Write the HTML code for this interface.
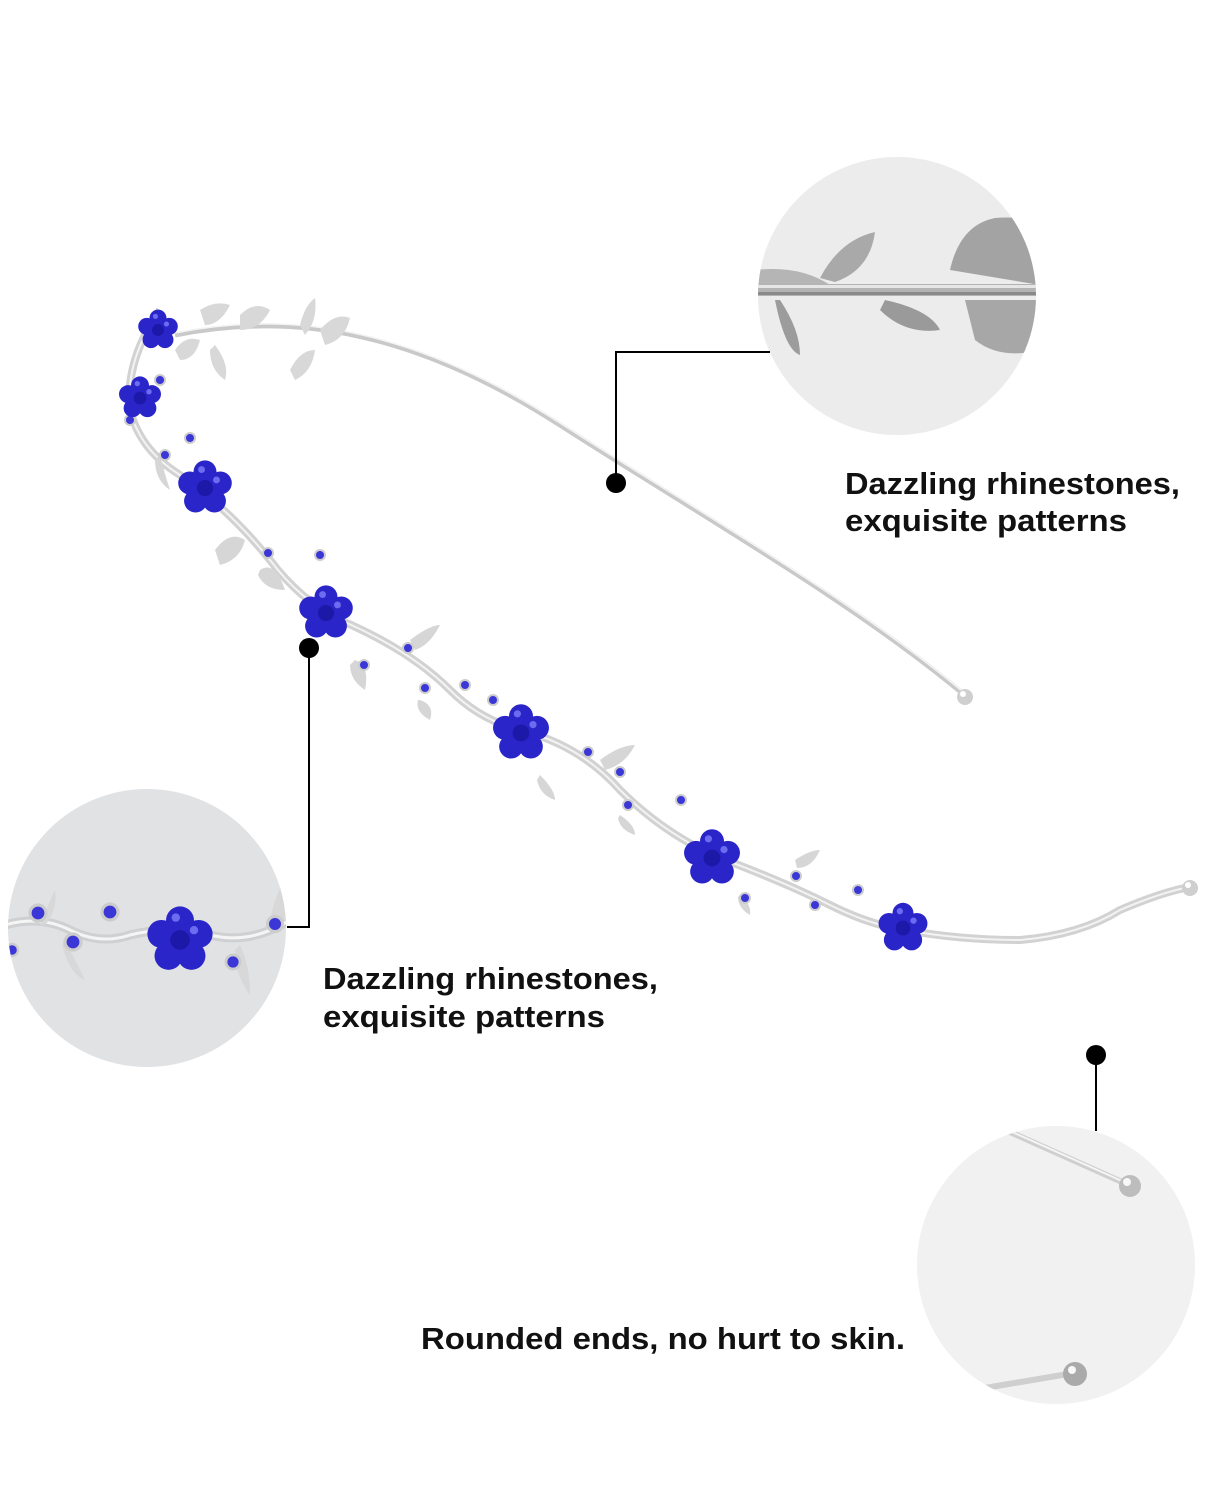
<!DOCTYPE html>
<html><head><meta charset="utf-8"><style>
html,body{margin:0;padding:0;background:#fff;}
svg{display:block}
text{font-family:"Liberation Sans",sans-serif;font-weight:bold;font-size:31px;fill:#111}
</style></head><body>
<svg width="1219" height="1500" viewBox="0 0 1219 1500" xmlns="http://www.w3.org/2000/svg">
<defs>
<g id="fl">
<circle cx="0" cy="-14" r="10" fill="#2a25c8"/>
<circle cx="13.3" cy="-4.3" r="10" fill="#2a25c8"/>
<circle cx="8.2" cy="11.3" r="10" fill="#2a25c8"/>
<circle cx="-8.2" cy="11.3" r="10" fill="#2a25c8"/>
<circle cx="-13.3" cy="-4.3" r="10" fill="#2a25c8"/>
<circle cx="0" cy="0" r="7" fill="#1c18a8"/>
<circle cx="-3" cy="-16" r="3" fill="#6c6cf0"/>
<circle cx="10" cy="-7" r="3" fill="#6c6cf0"/>
</g>
<g id="gem"><circle r="5" fill="#3b36d6" stroke="#ccc" stroke-width="2"/></g>
</defs>

<circle cx="897" cy="296" r="139" fill="#ececec"/>
<circle cx="147" cy="928" r="139" fill="#e1e2e4"/>
<circle cx="1056" cy="1265" r="139" fill="#f1f1f1"/>

<clipPath id="c1"><circle cx="897" cy="296" r="139"/></clipPath>
<g clip-path="url(#c1)">
<path d="M820,278 Q840,240 875,232 Q870,270 835,282Z" fill="#a9a9a9"/>
<path d="M950,270 Q960,225 995,218 Q1030,215 1040,230 L1040,285Z" fill="#a3a3a3"/>
<path d="M780,300 Q800,330 800,355 Q785,350 775,300Z" fill="#9c9c9c"/>
<path d="M885,300 Q930,310 940,330 Q905,335 880,310Z" fill="#9a9a9a"/>
<path d="M965,300 L1040,300 L1040,350 Q1000,360 975,340Z" fill="#a7a7a7"/>
<path d="M755,270 Q800,265 830,285 L755,290Z" fill="#b5b5b5"/>
<rect x="755" y="284" width="290" height="12" fill="#b3b3b3"/>
<rect x="755" y="285" width="290" height="3" fill="#e6e6e6"/>
<rect x="755" y="292" width="290" height="3" fill="#8a8a8a"/>
</g>

<clipPath id="c2"><circle cx="147" cy="928" r="139"/></clipPath>
<g clip-path="url(#c2)">
<path d="M5,925 Q40,915 70,930 Q100,945 130,935 Q170,925 210,935 Q250,945 290,920" stroke="#cfd0d2" stroke-width="9" fill="none"/>
<path d="M5,925 Q40,915 70,930 Q100,945 130,935 Q170,925 210,935 Q250,945 290,920" stroke="#f5f5f5" stroke-width="3" fill="none"/>
<path d="M40,925 Q50,900 55,890 Q58,910 45,925Z" fill="#d8d8d8"/>
<path d="M65,940 Q75,960 85,980 Q70,975 62,945Z" fill="#d8d8d8"/>
<path d="M240,945 Q250,965 250,995 Q235,975 235,950Z" fill="#d8d8d8"/>
<path d="M270,920 Q275,895 285,880 L288,920Z" fill="#d8d8d8"/>
<use href="#gem" transform="translate(38,913) scale(1.6)"/>
<use href="#gem" transform="translate(73,942) scale(1.6)"/>
<use href="#gem" transform="translate(110,912) scale(1.6)"/>
<use href="#gem" transform="translate(233,962) scale(1.4)"/>
<use href="#gem" transform="translate(275,924) scale(1.5)"/>
<use href="#gem" transform="translate(12,950) scale(1.2)"/>
<use href="#fl" transform="translate(180,940) scale(1.4)"/>
</g>

<clipPath id="c3"><circle cx="1056" cy="1265" r="139"/></clipPath>
<g clip-path="url(#c3)">
<path d="M1010,1132 L1122,1182" stroke="#cfcfcf" stroke-width="6" stroke-linecap="round"/>
<path d="M1010,1131 L1122,1181" stroke="#f4f4f4" stroke-width="2"/>
<circle cx="1130" cy="1186" r="11" fill="#bdbdbd"/><circle cx="1127" cy="1182" r="4" fill="#f8f8f8"/>
<path d="M985,1388 L1068,1374" stroke="#cfcfcf" stroke-width="6" stroke-linecap="round"/>
<circle cx="1075" cy="1374" r="12" fill="#aaa"/><circle cx="1072" cy="1370" r="4" fill="#f8f8f8"/>
</g>

<!-- back wire -->
<path d="M175,335 C300,310 420,335 560,425 C700,515 850,600 962,693" stroke="#c9c9c9" stroke-width="5" fill="none"/>
<path d="M175,333 C300,308 420,333 560,423 C700,513 850,598 962,691" stroke="#f4f4f4" stroke-width="1.5" fill="none"/>
<circle cx="965" cy="697" r="8" fill="#cfcfcf"/><circle cx="963" cy="694" r="3" fill="#fff"/>

<!-- top-left cluster -->
<g fill="#d8d8d8">
<path d="M200,310 Q215,300 230,305 Q220,325 205,325Z"/>
<path d="M240,315 Q255,300 270,310 Q260,330 240,330Z"/>
<path d="M300,325 Q305,305 315,298 Q318,320 305,335Z"/>
<path d="M320,330 Q335,312 350,318 Q345,340 325,345Z"/>
<path d="M290,370 Q300,350 315,350 Q312,372 295,380Z"/>
<path d="M215,345 Q230,365 225,380 Q210,370 210,350Z"/>
<path d="M175,350 Q185,335 200,340 Q195,360 180,360Z"/>
</g>

<!-- front band -->
<path d="M160,310 Q125,360 130,410 Q140,450 180,475 Q230,510 270,560 Q300,600 340,620 Q410,650 450,690 Q480,720 520,730 Q580,745 620,790 Q660,830 712,855 Q780,880 830,905 Q870,925 905,930 Q960,940 1020,940 Q1080,935 1120,910 Q1160,893 1185,888" stroke="#d2d2d2" stroke-width="8" fill="none"/>
<path d="M160,310 Q125,360 130,410 Q140,450 180,475 Q230,510 270,560 Q300,600 340,620 Q410,650 450,690 Q480,720 520,730 Q580,745 620,790 Q660,830 712,855 Q780,880 830,905 Q870,925 905,930 Q960,940 1020,940 Q1080,935 1120,910 Q1160,893 1185,888" stroke="#f3f3f3" stroke-width="2" fill="none"/>
<circle cx="1190" cy="888" r="8" fill="#cfcfcf"/><circle cx="1188" cy="885" r="3" fill="#fff"/>

<g fill="#d6d6d6">
<path d="M215,550 Q230,530 245,540 Q240,560 220,565Z"/>
<path d="M260,570 Q275,560 285,590 Q265,590 258,575Z"/>
<path d="M355,660 Q370,665 365,690 Q350,680 350,665Z"/>
<path d="M420,700 Q435,705 430,720 Q415,712 418,700Z"/>
<path d="M410,640 Q430,625 440,625 Q430,645 415,650Z"/>
<path d="M600,760 Q620,745 635,745 Q625,765 605,770Z"/>
<path d="M540,775 Q555,790 555,800 Q540,795 537,780Z"/>
<path d="M620,815 Q635,825 635,835 Q620,830 618,818Z"/>
<path d="M795,860 Q810,850 820,850 Q812,868 797,868Z"/>
<path d="M740,895 Q752,905 750,915 Q738,908 738,897Z"/>
<path d="M160,455 Q165,475 170,490 Q155,480 155,460Z"/>
</g>
<use href="#gem" transform="translate(165,455)"/>
<use href="#gem" transform="translate(190,438)"/>
<use href="#gem" transform="translate(268,553)"/>
<use href="#gem" transform="translate(320,555)"/>
<use href="#gem" transform="translate(364,665)"/>
<use href="#gem" transform="translate(408,648)"/>
<use href="#gem" transform="translate(425,688)"/>
<use href="#gem" transform="translate(465,685)"/>
<use href="#gem" transform="translate(493,700)"/>
<use href="#gem" transform="translate(588,752)"/>
<use href="#gem" transform="translate(620,772)"/>
<use href="#gem" transform="translate(628,805)"/>
<use href="#gem" transform="translate(681,800)"/>
<use href="#gem" transform="translate(745,898)"/>
<use href="#gem" transform="translate(796,876)"/>
<use href="#gem" transform="translate(815,905)"/>
<use href="#gem" transform="translate(858,890)"/>
<use href="#gem" transform="translate(160,380)"/>
<use href="#gem" transform="translate(130,420)"/>

<use href="#fl" transform="translate(158,330) scale(0.85)"/>
<use href="#fl" transform="translate(140,398) scale(0.9)"/>
<use href="#fl" transform="translate(205,488) scale(1.15)"/>
<use href="#fl" transform="translate(326,613) scale(1.15)"/>
<use href="#fl" transform="translate(521,733) scale(1.2)"/>
<use href="#fl" transform="translate(712,858) scale(1.2)"/>
<use href="#fl" transform="translate(903,928) scale(1.05)"/>

<g stroke="#000" stroke-width="2" fill="none">
<polyline points="616,483 616,352 770,352"/>
<polyline points="309,648 309,927 287,927"/>
<line x1="1096" y1="1055" x2="1096" y2="1131"/>
</g>
<circle cx="616" cy="483" r="10" fill="#000"/>
<circle cx="309" cy="648" r="10" fill="#000"/>
<circle cx="1096" cy="1055" r="10" fill="#000"/>

<text x="845" y="494" textLength="335" lengthAdjust="spacingAndGlyphs">Dazzling rhinestones,</text>
<text x="845" y="531" textLength="282" lengthAdjust="spacingAndGlyphs">exquisite patterns</text>
<text x="323" y="989" textLength="335" lengthAdjust="spacingAndGlyphs">Dazzling rhinestones,</text>
<text x="323" y="1027" textLength="282" lengthAdjust="spacingAndGlyphs">exquisite patterns</text>
<text x="421" y="1349" textLength="484" lengthAdjust="spacingAndGlyphs">Rounded ends, no hurt to skin.</text>
</svg>
</body></html>
